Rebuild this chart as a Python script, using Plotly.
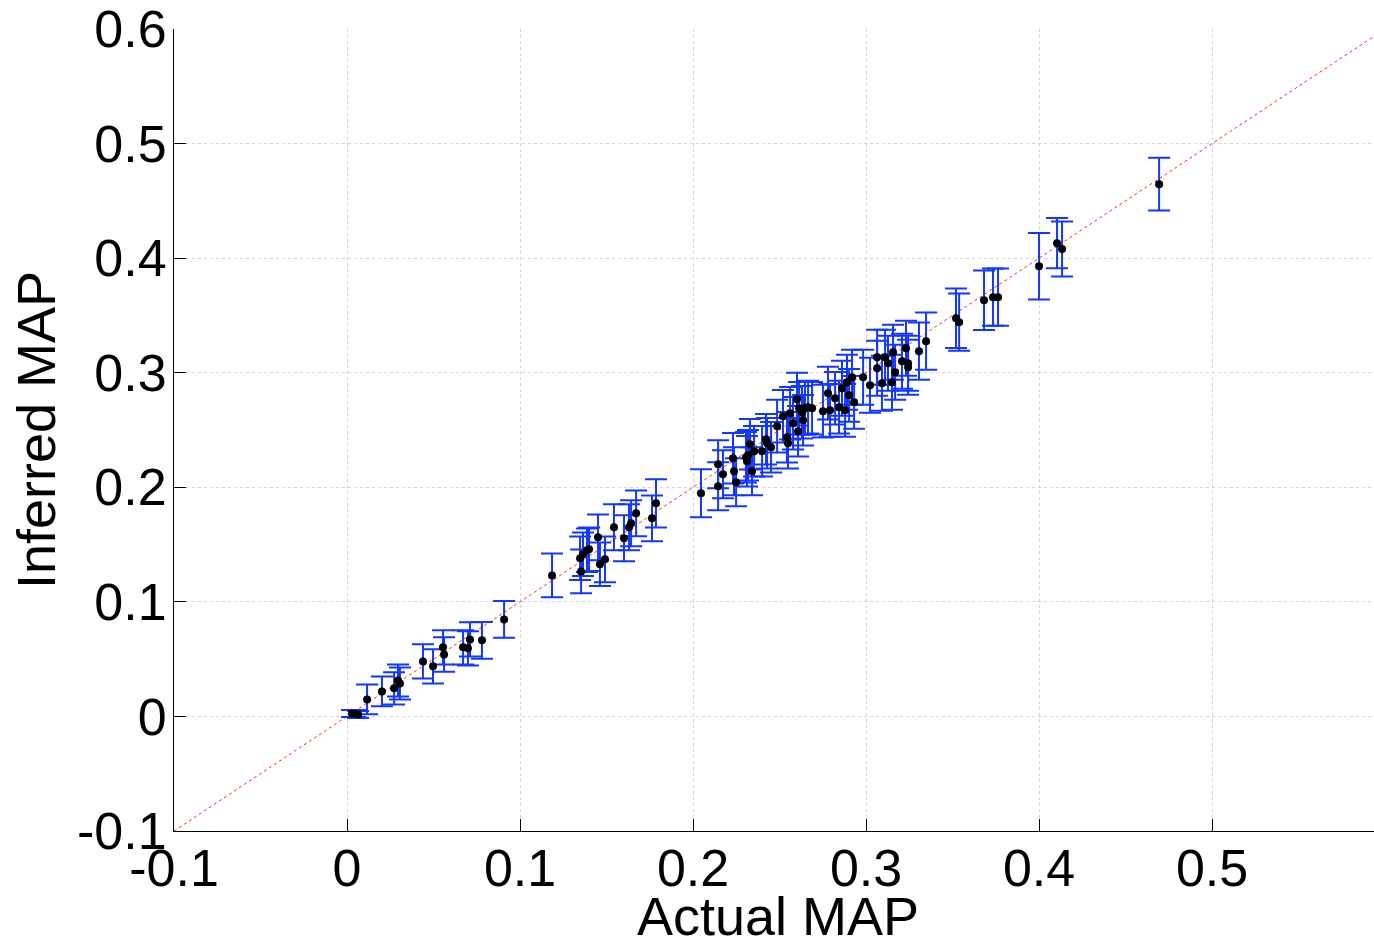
import plotly.graph_objects as go

actual_map = [
    0.0029, 0.0046, 0.0064, 0.0116, 0.0202, 0.0272, 0.0295, 0.0306, 0.0439, 0.0497,
    0.0555, 0.0561, 0.0671, 0.0699, 0.0711, 0.0780, 0.0908,
    0.1185, 0.1353, 0.1347, 0.1364, 0.1387, 0.1399, 0.1451, 0.1462, 0.1491,
    0.1543, 0.1601, 0.1630, 0.1642, 0.1671, 0.1763, 0.1786,
    0.2046, 0.2145, 0.2145, 0.2173, 0.2231, 0.2237, 0.2249, 0.2306, 0.2312, 0.2318,
    0.2329, 0.2341, 0.2353, 0.2399, 0.2422, 0.2428, 0.2451, 0.2486, 0.2520, 0.2543,
    0.2549, 0.2561, 0.2578, 0.2601, 0.2607, 0.2613, 0.2630, 0.2636, 0.2647, 0.2665,
    0.2688, 0.2751, 0.2780, 0.2792, 0.2821, 0.2844, 0.2861, 0.2879, 0.2890, 0.2902,
    0.2919, 0.2931, 0.2983, 0.3023, 0.3064, 0.3064, 0.3092, 0.3110, 0.3127, 0.3150,
    0.3156, 0.3168, 0.3208, 0.3231, 0.3243, 0.3243, 0.3306, 0.3347,
    0.3520, 0.3538, 0.3682, 0.3734, 0.3763, 0.4000, 0.4104, 0.4133, 0.4694,
]
inferred_map = [
    0.0026, 0.0026, 0.0017, 0.0148, 0.0218, 0.0245, 0.0314, 0.0288, 0.0480, 0.0437,
    0.0603, 0.0541, 0.0603, 0.0594, 0.0672, 0.0664, 0.0847,
    0.1231, 0.1266, 0.1380, 0.1415, 0.1450, 0.1459, 0.1563, 0.1328, 0.1371,
    0.1651, 0.1555, 0.1651, 0.1686, 0.1773, 0.1729, 0.1860,
    0.1948, 0.2201, 0.2009, 0.2114, 0.2253, 0.2140, 0.2044, 0.2262, 0.2227, 0.2279,
    0.2376, 0.2140, 0.2314, 0.2314, 0.2419, 0.2384, 0.2349, 0.2533, 0.2620, 0.2437,
    0.2384, 0.2646, 0.2559, 0.2769, 0.2489, 0.2690, 0.2655, 0.2585, 0.2690, 0.2699,
    0.2690, 0.2664, 0.2821, 0.2672, 0.2777, 0.2699, 0.2865, 0.2672, 0.2917, 0.2803,
    0.2961, 0.2742, 0.2961, 0.2891, 0.3135, 0.3039, 0.2908, 0.3135, 0.3083, 0.2917,
    0.3179, 0.3004, 0.3100, 0.3214, 0.3083, 0.3048, 0.3188, 0.3275,
    0.3476, 0.3441, 0.3633, 0.3659, 0.3659, 0.3930, 0.4131, 0.4079, 0.4646,
]
error_half = [
    0.003, 0.003, 0.003, 0.013, 0.013, 0.014, 0.014, 0.014, 0.015, 0.015,
    0.015, 0.015, 0.015, 0.015, 0.015, 0.016, 0.016,
    0.019, 0.019, 0.019, 0.019, 0.019, 0.019, 0.020, 0.019, 0.020,
    0.020, 0.020, 0.020, 0.020, 0.020, 0.020, 0.021,
    0.021, 0.021, 0.021, 0.021, 0.022, 0.021, 0.021, 0.022, 0.022, 0.022,
    0.022, 0.021, 0.022, 0.022, 0.022, 0.022, 0.022, 0.023, 0.023, 0.022,
    0.022, 0.023, 0.023, 0.023, 0.022, 0.023, 0.023, 0.022, 0.023, 0.023,
    0.023, 0.023, 0.023, 0.023, 0.023, 0.023, 0.024, 0.023, 0.024, 0.023,
    0.024, 0.023, 0.024, 0.024, 0.024, 0.024, 0.024, 0.024, 0.024, 0.024,
    0.024, 0.024, 0.024, 0.024, 0.024, 0.024, 0.025, 0.025,
    0.026, 0.025, 0.026, 0.025, 0.025, 0.029, 0.022, 0.024, 0.023,
]

diag = [-0.1, 0.6]
tick_vals_x = [-0.1, 0, 0.1, 0.2, 0.3, 0.4, 0.5]
tick_text_x = ["-0.1", "0", "0.1", "0.2", "0.3", "0.4", "0.5"]
tick_vals_y = [-0.1, 0, 0.1, 0.2, 0.3, 0.4, 0.5, 0.6]
tick_text_y = ["-0.1", "0", "0.1", "0.2", "0.3", "0.4", "0.5", "0.6"]
x_title = "Actual MAP"
y_title = "Inferred MAP"

fig = go.Figure()
fig.add_trace(go.Scatter(
    x=diag, y=diag, mode="lines",
    line=dict(color="#ff2a1a", width=1, dash="dot"),
    hoverinfo="skip", showlegend=False,
))
fig.add_trace(go.Scatter(
    x=actual_map, y=inferred_map, mode="markers",
    marker=dict(color="black", size=8),
    error_y=dict(type="data", array=error_half, visible=True,
                 color="#1437ff", thickness=2, width=11),
    showlegend=False,
))

font_family = "Liberation Sans, Arial, sans-serif"
fig.update_layout(
    width=1374, height=940,
    margin=dict(l=174, r=0, t=29, b=109, autoexpand=False),
    paper_bgcolor="white", plot_bgcolor="white",
    font=dict(family=font_family, size=52, color="black"),
    xaxis=dict(
        range=[-0.1, 0.5936], automargin=False,
        tickvals=tick_vals_x, ticktext=tick_text_x,
        ticks="inside", ticklen=12, tickcolor="black", tickwidth=1,
        ticklabelstandoff=-8,
        showline=True, linecolor="black", linewidth=1, mirror=False,
        showgrid=True, gridcolor="#d4d4d4", gridwidth=1, griddash="dot",
        zeroline=False,
        tickfont=dict(size=52),
    ),
    yaxis=dict(
        range=[-0.1, 0.6], automargin=False,
        tickvals=tick_vals_y, ticktext=tick_text_y,
        ticks="inside", ticklen=12, tickcolor="black", tickwidth=1,
        ticklabelstandoff=-4,
        showline=True, linecolor="black", linewidth=1, mirror=False,
        showgrid=True, gridcolor="#d4d4d4", gridwidth=1, griddash="dot",
        zeroline=False,
        title=dict(text=y_title, standoff=4, font=dict(size=54)),
        tickfont=dict(size=52),
    ),
    annotations=[dict(
        text=x_title, xref="paper", yref="paper", x=0.5033, y=0,
        xanchor="center", yanchor="middle", yshift=-85, showarrow=False,
        font=dict(size=54, family=font_family, color="black"),
    )],
)

fig.write_html(
    "out.html",
    config={"displayModeBar": False},
    post_script="document.body.style.margin='0';document.body.style.overflow='hidden';",
)
